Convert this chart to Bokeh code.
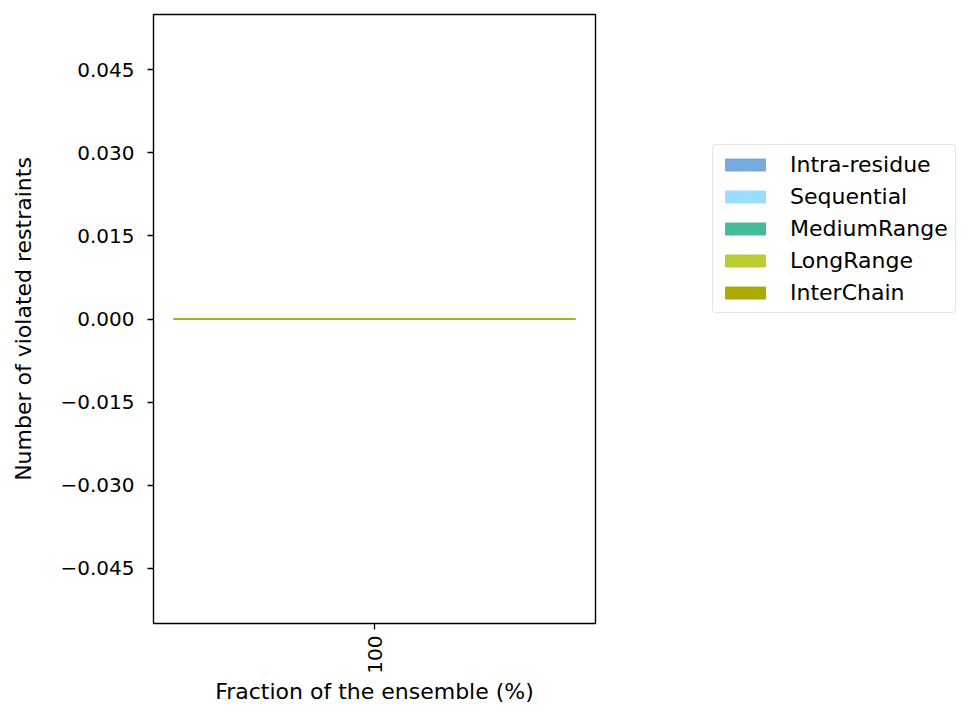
from bokeh.plotting import figure
from bokeh.layouts import row
from bokeh.models import Range1d, FixedTicker, CustomJSTickFormatter, Legend, LegendItem, ColumnDataSource
from bokeh.embed import file_html
from bokeh.resources import INLINE
import math

categories = ["100"]
series_names = ["Intra-residue", "Sequential", "MediumRange", "LongRange", "InterChain"]
series_values = {
    "Intra-residue": [0],
    "Sequential": [0],
    "MediumRange": [0],
    "LongRange": [0],
    "InterChain": [0],
}
colors = ["#77AADD", "#99DDFF", "#44BB99", "#BBCC33", "#AAAA00"]
y_ticks = [-0.045, -0.030, -0.015, 0.0, 0.015, 0.030, 0.045]

FONT = "DejaVu Sans"

p = figure(width=600, height=706, output_backend="svg", toolbar_location=None,
           x_range=Range1d(-0.44, 0.44), y_range=Range1d(-0.055, 0.055),
           min_border_left=153, min_border_right=5, min_border_top=14, min_border_bottom=74)
p.xgrid.visible = False
p.ygrid.visible = False
p.outline_line_color = "black"
p.outline_line_width = 1.4
p.background_fill_color = "white"

xs = list(range(len(categories)))
bottom = [0.0] * len(categories)
for name, col in zip(series_names, colors):
    vals = series_values[name]
    top = [b + v for b, v in zip(bottom, vals)]
    src = ColumnDataSource(dict(x=xs, bottom=bottom, top=top))
    p.vbar(x="x", bottom="bottom", top="top", width=0.8, source=src,
           fill_color=col, line_color=col, line_width=1.3)
    bottom = top

p.xaxis.ticker = FixedTicker(ticks=xs)
p.xaxis.major_label_overrides = {i: c for i, c in enumerate(categories)}
p.xaxis.major_label_orientation = math.pi / 2
p.yaxis.ticker = FixedTicker(ticks=y_ticks)
p.yaxis.formatter = CustomJSTickFormatter(code="return (tick < -1e-9 ? '\u2212' : '') + Math.abs(tick).toFixed(3);")

for ax in (p.xaxis[0], p.yaxis[0]):
    ax.major_label_text_font = FONT
    ax.major_label_text_font_size = "20px"
    ax.major_label_text_color = "black"
    ax.axis_label_text_font = FONT
    ax.axis_label_text_font_size = "22px"
    ax.axis_label_text_font_style = "normal"
    ax.axis_label_text_color = "black"
    ax.major_tick_out = 6
    ax.major_tick_in = 0
    ax.minor_tick_out = 0
    ax.minor_tick_in = 0
    ax.axis_line_color = None
    ax.major_tick_line_color = "black"
    ax.major_tick_line_width = 1.3

p.yaxis.major_label_standoff = 13
p.yaxis.axis_label_standoff = 21
p.xaxis.major_label_standoff = 6
p.xaxis.axis_label_standoff = 2

p.xaxis.axis_label = "Fraction of the ensemble (%)"
p.yaxis.axis_label = "Number of violated restraints"

# legend panel to the right of the axes (its frame is aligned with the main frame)
lp = figure(width=359, height=706, output_backend="svg", toolbar_location=None,
            x_range=Range1d(0, 1), y_range=Range1d(0, 1),
            min_border_left=0, min_border_right=0, min_border_top=0, min_border_bottom=0)
lp.axis.visible = False
lp.grid.visible = False
lp.outline_line_color = None
items = []
for name, col in zip(series_names, colors):
    # renderer kept outside the visible range: only its legend swatch is shown
    r = lp.vbar(x=[5], bottom=[0], top=[1], width=0.8, fill_color=col, line_color=col)
    items.append(LegendItem(label=name, renderers=[r]))

legend = Legend(items=items, location=(112, 310))
legend.label_text_font = FONT
legend.label_text_font_size = "22px"
legend.label_text_color = "black"
legend.glyph_width = 50
legend.glyph_height = 15
legend.label_standoff = 20
legend.label_height = 22
legend.spacing = 7
legend.padding = 7
legend.margin = 0
legend.border_line_color = "#cccccc"
legend.border_line_width = 1.3
legend.border_radius = 4
legend.background_fill_alpha = 0.8
lp.add_layout(legend, "center")

layout = row(p, lp, spacing=0)
open("out.html", "w").write(file_html(layout, INLINE))
